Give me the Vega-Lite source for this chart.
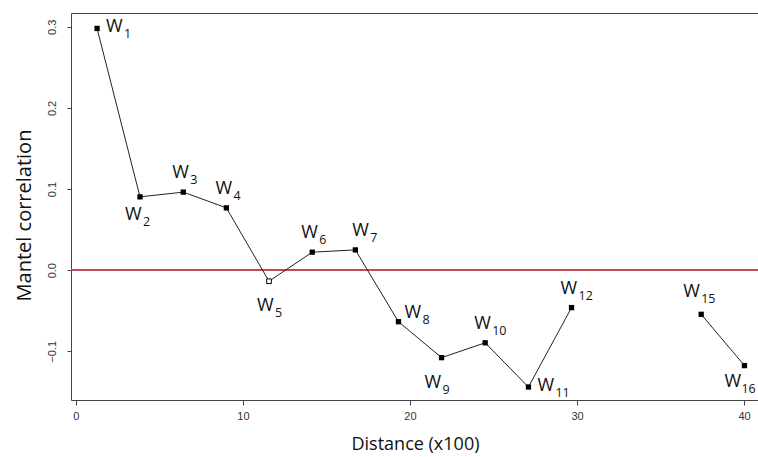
{
  "$schema": "https://vega.github.io/schema/vega-lite/v6.json",
  "width": 688,
  "height": 387,
  "autosize": "none",
  "padding": {"left": 71, "top": 13, "right": 0, "bottom": 57},
  "background": "white",
  "config": {
    "view": {"stroke": "#444", "strokeWidth": 1},
    "axis": {"grid": false, "domain": false, "labelFont": "Liberation Sans", "labelFontSize": 11, "labelColor": "#333", "tickColor": "#444", "titleFont": "Open Sans", "titleFontWeight": "normal", "titleColor": "#111"},
    "text": {"font": "Open Sans", "color": "#111", "align": "left", "baseline": "middle"}
  },
  "data": {
    "values": [
      {"id": 1, "dist": 1.27, "r": 0.298, "sig": true},
      {"id": 2, "dist": 3.84, "r": 0.0904, "sig": true},
      {"id": 3, "dist": 6.43, "r": 0.0962, "sig": true},
      {"id": 4, "dist": 9.01, "r": 0.0768, "sig": true},
      {"id": 5, "dist": 11.56, "r": -0.0136, "sig": false},
      {"id": 6, "dist": 14.15, "r": 0.0222, "sig": true},
      {"id": 7, "dist": 16.73, "r": 0.025, "sig": true},
      {"id": 8, "dist": 19.31, "r": -0.0635, "sig": true},
      {"id": 9, "dist": 21.89, "r": -0.1078, "sig": true},
      {"id": 10, "dist": 24.5, "r": -0.0895, "sig": true},
      {"id": 11, "dist": 27.09, "r": -0.144, "sig": true},
      {"id": 12, "dist": 29.67, "r": -0.0461, "sig": true},
      {"id": 15, "dist": 37.43, "r": -0.0544, "sig": true},
      {"id": 16, "dist": 40.02, "r": -0.1176, "sig": true}
    ]
  },
  "layer": [
    {
      "mark": {"type": "rule", "color": "#c4475a", "strokeWidth": 1},
      "encoding": {"y": {"datum": 0, "type": "quantitative", "scale": {"domain": [-0.16, 0.317], "nice": false, "zero": false}}}
    },
    {
      "transform": [{"filter": "datum.id <= 12"}],
      "mark": {"type": "line", "color": "#222", "strokeWidth": 1},
      "encoding": {
        "x": {"field": "dist", "type": "quantitative", "scale": {"domain": [-0.29, 40.89], "nice": false, "zero": false},
          "axis": {"values": [0, 10, 20, 30, 40], "format": "d", "tickSize": 5, "labelPadding": 5, "title": "Distance (x100)", "titleFontSize": 18, "titleY": 44, "titleBaseline": "middle"}},
        "y": {"field": "r", "type": "quantitative", "scale": {"domain": [-0.16, 0.317], "nice": false, "zero": false},
          "axis": {"values": [-0.1, 0, 0.1, 0.2, 0.3], "format": ".1f", "tickSize": 4, "labelAngle": -90, "labelAlign": "center", "labelBaseline": "bottom", "labelPadding": 10, "title": "Mantel correlation", "titleFontSize": 20, "titleAngle": -90, "titleX": -47, "titleY": 202, "titleAlign": "center", "titleBaseline": "middle"}}
      }
    },
    {
      "transform": [{"filter": "datum.id >= 15"}],
      "mark": {"type": "line", "color": "#222", "strokeWidth": 1},
      "encoding": {
        "x": {"field": "dist", "type": "quantitative"},
        "y": {"field": "r", "type": "quantitative"}
      }
    },
    {
      "transform": [{"filter": "datum.sig"}],
      "mark": {"type": "point", "shape": "square", "filled": true, "color": "#000", "size": 28, "opacity": 1},
      "encoding": {
        "x": {"field": "dist", "type": "quantitative"},
        "y": {"field": "r", "type": "quantitative"}
      }
    },
    {
      "transform": [{"filter": "!datum.sig"}],
      "mark": {"type": "point", "shape": "square", "filled": true, "fill": "white", "stroke": "#000", "strokeWidth": 1, "size": 22, "opacity": 1},
      "encoding": {
        "x": {"field": "dist", "type": "quantitative"},
        "y": {"field": "r", "type": "quantitative"}
      }
    },
    {
      "transform": [{"filter": {"field": "id", "oneOf": [3, 4, 6, 10, 12]}}],
      "encoding": {"x": {"field": "dist", "type": "quantitative"}, "y": {"field": "r", "type": "quantitative"}},
      "layer": [
        {"mark": {"type": "text", "fontSize": 18, "dx": -11, "dy": -19}, "encoding": {"text": {"value": "W"}}},
        {"mark": {"type": "text", "fontSize": 12.5, "dx": 7, "dy": -12}, "encoding": {"text": {"field": "id"}}}
      ]
    },
    {
      "transform": [{"filter": {"field": "id", "oneOf": [7]}}],
      "encoding": {"x": {"field": "dist", "type": "quantitative"}, "y": {"field": "r", "type": "quantitative"}},
      "layer": [
        {"mark": {"type": "text", "fontSize": 18, "dx": -3, "dy": -19}, "encoding": {"text": {"value": "W"}}},
        {"mark": {"type": "text", "fontSize": 12.5, "dx": 15, "dy": -12}, "encoding": {"text": {"field": "id"}}}
      ]
    },
    {
      "transform": [{"filter": {"field": "id", "oneOf": [15]}}],
      "encoding": {"x": {"field": "dist", "type": "quantitative"}, "y": {"field": "r", "type": "quantitative"}},
      "layer": [
        {"mark": {"type": "text", "fontSize": 18, "dx": -18, "dy": -22}, "encoding": {"text": {"value": "W"}}},
        {"mark": {"type": "text", "fontSize": 12.5, "dx": 0, "dy": -15}, "encoding": {"text": {"field": "id"}}}
      ]
    },
    {
      "transform": [{"filter": {"field": "id", "oneOf": [1, 11]}}],
      "encoding": {"x": {"field": "dist", "type": "quantitative"}, "y": {"field": "r", "type": "quantitative"}},
      "layer": [
        {"mark": {"type": "text", "fontSize": 18, "dx": 9, "dy": -1}, "encoding": {"text": {"value": "W"}}},
        {"mark": {"type": "text", "fontSize": 12.5, "dx": 27, "dy": 6}, "encoding": {"text": {"field": "id"}}}
      ]
    },
    {
      "transform": [{"filter": {"field": "id", "oneOf": [8]}}],
      "encoding": {"x": {"field": "dist", "type": "quantitative"}, "y": {"field": "r", "type": "quantitative"}},
      "layer": [
        {"mark": {"type": "text", "fontSize": 18, "dx": 6, "dy": -9}, "encoding": {"text": {"value": "W"}}},
        {"mark": {"type": "text", "fontSize": 12.5, "dx": 24, "dy": -2}, "encoding": {"text": {"field": "id"}}}
      ]
    },
    {
      "transform": [{"filter": {"field": "id", "oneOf": [2]}}],
      "encoding": {"x": {"field": "dist", "type": "quantitative"}, "y": {"field": "r", "type": "quantitative"}},
      "layer": [
        {"mark": {"type": "text", "fontSize": 18, "dx": -15, "dy": 18}, "encoding": {"text": {"value": "W"}}},
        {"mark": {"type": "text", "fontSize": 12.5, "dx": 3, "dy": 25}, "encoding": {"text": {"field": "id"}}}
      ]
    },
    {
      "transform": [{"filter": {"field": "id", "oneOf": [16]}}],
      "encoding": {"x": {"field": "dist", "type": "quantitative"}, "y": {"field": "r", "type": "quantitative"}},
      "layer": [
        {"mark": {"type": "text", "fontSize": 18, "dx": -20, "dy": 16}, "encoding": {"text": {"value": "W"}}},
        {"mark": {"type": "text", "fontSize": 12.5, "dx": -3, "dy": 23}, "encoding": {"text": {"field": "id"}}}
      ]
    },
    {
      "transform": [{"filter": {"field": "id", "oneOf": [5]}}],
      "encoding": {"x": {"field": "dist", "type": "quantitative"}, "y": {"field": "r", "type": "quantitative"}},
      "layer": [
        {"mark": {"type": "text", "fontSize": 18, "dx": -12, "dy": 25}, "encoding": {"text": {"value": "W"}}},
        {"mark": {"type": "text", "fontSize": 12.5, "dx": 6, "dy": 32}, "encoding": {"text": {"field": "id"}}}
      ]
    },
    {
      "transform": [{"filter": {"field": "id", "oneOf": [9]}}],
      "encoding": {"x": {"field": "dist", "type": "quantitative"}, "y": {"field": "r", "type": "quantitative"}},
      "layer": [
        {"mark": {"type": "text", "fontSize": 18, "dx": -17, "dy": 25}, "encoding": {"text": {"value": "W"}}},
        {"mark": {"type": "text", "fontSize": 12.5, "dx": 1, "dy": 32}, "encoding": {"text": {"field": "id"}}}
      ]
    }
  ]
}
